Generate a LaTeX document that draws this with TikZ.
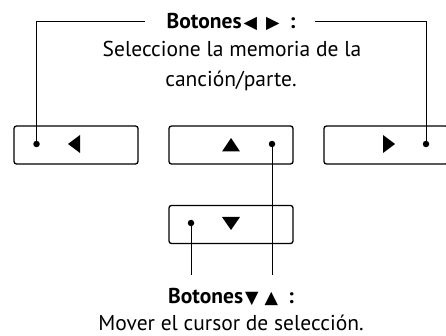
\documentclass[tikz,border=0pt]{standalone}
\usepackage{fontspec}
\setmainfont{PT Sans}
\newfontfamily\symf{DejaVu Sans}
\begin{document}
\begin{tikzpicture}[x=1pt,y=-1pt,
  btn/.style={draw, line width=1.3pt, rounded corners=2.5pt, minimum width=124pt, minimum height=38pt, inner sep=0pt},
  dot/.style={circle, fill, inner sep=0pt, minimum size=6.5pt},
  conn/.style={line width=0.8pt},
  tri/.style={fill=black},
  lbl/.style={font=\fontsize{21.5}{25}\selectfont, inner sep=0pt, anchor=base},
  blbl/.style={font=\fontsize{21.5}{25}\selectfont\bfseries, inner sep=0pt, anchor=base}]
\useasboundingbox (0,0) rectangle (446,336);
\clip (0,0) rectangle (446,336);
% buttons
\node[btn] (bl) at (76,145) {};
\node[btn] (bm) at (231,145) {};
\node[btn] (br) at (386,145) {};
\node[btn] (bd) at (231,224.5) {};
% triangles
\fill[tri] (68,144) -- (80,135) -- (80,153) -- cycle;
\fill[tri] (231,138) -- (240,151.5) -- (222,151.5) -- cycle;
\fill[tri] (395,144) -- (383,135) -- (383,153) -- cycle;
\fill[tri] (231,230) -- (240,217) -- (222,217) -- cycle;
% dots
\node[dot] (dl) at (36.5,144) {};
\node[dot] (dm) at (272,144) {};
\node[dot] (dr) at (426,144) {};
\node[dot] (dd) at (191,223) {};
% labels
\node[blbl] (t1) at (231,29) {Botones{\symf\fontsize{17.5}{17.5}\selectfont\hspace{2pt}◀\hspace{9pt}▶\hspace{10pt}}:};
\node[lbl] (t2) at (232,57) {Seleccione la memoria de la};
\node[lbl] (t3) at (231,87) {canción/parte.};
\node[blbl] (b1) at (231,303) {Botones{\symf\fontsize{17.5}{17.5}\selectfont\hspace{2pt}▼\hspace{6pt}▲\hspace{10pt}}:};
\node[lbl] (b2) at (231,330) {Mover el cursor de selección.};
% connectors
\coordinate (cl) at (36.5,21);
\coordinate (cr) at (426,21);
\coordinate (cle) at (145,21);
\coordinate (cre) at (315,21);
\draw[conn] (dl.center) -- (cl) -- (cle);
\draw[conn] (dr.center) -- (cr) -- (cre);
\coordinate (em) at (272,275);
\coordinate (ed) at (191,275);
\draw[conn] (dm.center) -- (em);
\draw[conn] (dd.center) -- (ed);
\end{tikzpicture}
\end{document}
